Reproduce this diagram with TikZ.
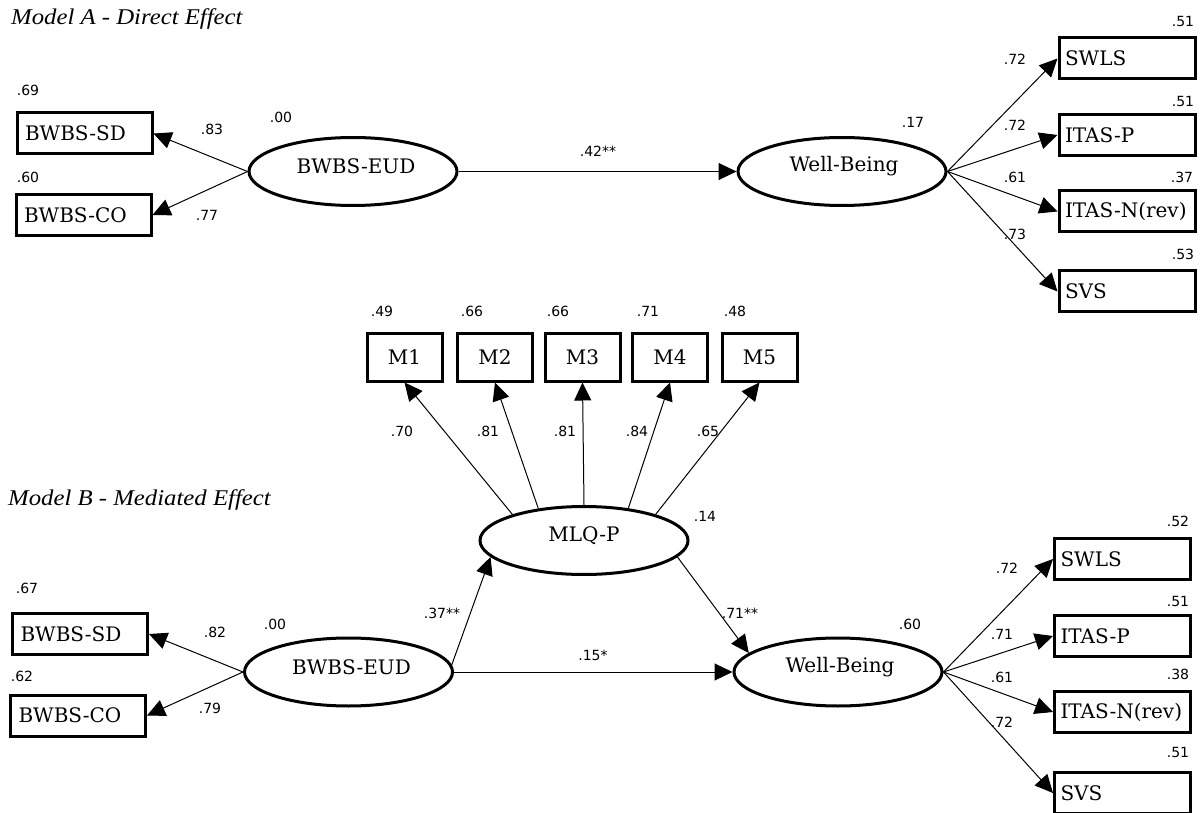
\documentclass[tikz,border=0pt]{standalone}
\usepackage{fontspec}
\setmainfont{DejaVu Serif}
\newfontfamily\numfont{DejaVu Sans}
\newfontfamily\titlefont[FakeStretch=1.1]{Liberation Serif}
\usetikzlibrary{shapes.geometric,arrows.meta}
\begin{document}
\begin{tikzpicture}[x=1pt,y=-1pt,
  obs/.style={draw, line width=3pt, rectangle, minimum height=41pt, inner ysep=0pt,
    font=\fontsize{20}{22}\selectfont},
  lbox/.style={obs, minimum width=135pt, text width=119pt, inner xsep=8pt, align=left},
  rbox/.style={obs, minimum width=136pt, text width=124pt, inner xsep=6pt, align=left},
  mbox/.style={obs, minimum width=75pt, minimum height=48pt, inner xsep=0pt},
  lat/.style={draw, ellipse, line width=3pt, minimum width=208pt, minimum height=68pt, inner sep=0pt},
  lattext/.style={font=\fontsize{20}{22}\selectfont, inner sep=0pt},
  num/.style={font=\numfont\fontsize{14}{16}\selectfont, inner sep=0pt},
  ttl/.style={font=\titlefont\itshape\fontsize{22.5}{24}\selectfont, inner sep=0pt, anchor=base west},
  conn/.style={line width=1pt, -{Triangle[length=18pt,width=17pt]}}
]
\useasboundingbox[fill=white] (0,0) rectangle (1203,813);

% ---------------- Model A ----------------
\node[ttl] (tA) at (11,25) {Model A - Direct Effect};
\node[lbox] (Asd) at (84.5,133.5) {BWBS-SD};
\node[lbox] (Aco) at (83.5,215) {BWBS-CO};
\node[lat] (Aeud) at (353,171.5) {};
\node[lattext] (AeudT) at ([xshift=3pt,yshift=5pt]Aeud.center) {BWBS-EUD};
\node[lat] (Awb) at (842,171.5) {};
\node[lattext] (AwbT) at ([xshift=2pt,yshift=5pt]Awb.center) {Well-Being};
\node[rbox] (As1) at (1127,58.5) {SWLS};
\node[rbox] (As2) at (1127,135) {ITAS-P};
\node[rbox] (As3) at (1127,211.5) {ITAS-N(rev)};
\node[rbox] (As4) at (1127,291.5) {SVS};

\draw[conn] (Aeud.west) -- (Asd.east);
\draw[conn] (Aeud.west) -- (Aco.east);
\draw[conn] (Aeud.east) -- (Awb.west);
\foreach \i in {1,...,4} { \draw[conn] (Awb.east) -- (As\i.west); }

\node[num] (nA1) at (28,90) {.69};
\node[num] (nA2) at (28,177) {.60};
\node[num] (nA3) at (212,129) {.83};
\node[num] (nA4) at (207,215) {.77};
\node[num] (nA5) at (281,117.5) {.00};
\node[num] (nA6) at (598,151) {.42**};
\node[num] (nA7) at (913,122) {.17};
\node[num] (nA8) at (1015,59) {.72};
\node[num] (nA9) at (1015,125) {.72};
\node[num] (nA10) at (1015,177) {.61};
\node[num] (nA11) at (1015,234) {.73};
\node[num] (nA12) at (1183,21) {.51};
\node[num] (nA13) at (1183,101) {.51};
\node[num] (nA14) at (1182,177) {.37};
\node[num] (nA15) at (1183,254) {.53};

% ---------------- Mediator ----------------
\node[mbox] (M1) at (404.5,357) {M1};
\node[mbox] (M2) at (495,357) {M2};
\node[mbox] (M3) at (582.5,357) {M3};
\node[mbox] (M4) at (670,357) {M4};
\node[mbox] (M5) at (759.5,357) {M5};
\node[lat] (mlq) at (584,540.5) {};
\node[lattext] (mlqT) at ([yshift=5pt]mlq.center) {MLQ-P};

\draw[conn] (mlq.160) -- (M1.south);
\draw[conn] (mlq.145) -- (M2.south);
\draw[conn] (mlq.90) -- (M3.south);
\draw[conn] (mlq.36) -- (M4.south);
\draw[conn] (mlq.20) -- (M5.south);

\node[num] (nM1) at (382,311) {.49};
\node[num] (nM2) at (472,311) {.66};
\node[num] (nM3) at (558,311) {.66};
\node[num] (nM4) at (648,311) {.71};
\node[num] (nM5) at (735,311) {.48};
\node[num] (nL1) at (402,431) {.70};
\node[num] (nL2) at (488,431) {.81};
\node[num] (nL3) at (565,431) {.81};
\node[num] (nL4) at (637,431) {.84};
\node[num] (nL5) at (708,431) {.65};
\node[num] (nM6) at (705,516) {.14};

% ---------------- Model B ----------------
\node[ttl] (tB) at (8,505) {Model B - Mediated Effect};
\node[lbox] (Bsd) at (80,634) {BWBS-SD};
\node[lbox] (Bco) at (78,715.5) {BWBS-CO};
\node[lat] (Beud) at (348.5,672) {};
\node[lattext] (BeudT) at ([xshift=3pt,yshift=5pt]Beud.center) {BWBS-EUD};
\node[lat] (Bwb) at (838,672) {};
\node[lattext] (BwbT) at ([xshift=2pt,yshift=5pt]Bwb.center) {Well-Being};
\node[rbox] (Bs1) at (1122.5,559) {SWLS};
\node[rbox] (Bs2) at (1122.5,636) {ITAS-P};
\node[rbox] (Bs3) at (1122.5,712) {ITAS-N(rev)};
\node[rbox] (Bs4) at (1122.5,793) {SVS};

\draw[conn] (Beud.west) -- (Bsd.east);
\draw[conn] (Beud.west) -- (Bco.east);
\draw[conn] (Beud.4) -- (mlq.190);
\draw[conn] (mlq.350) -- (Bwb.168);
\draw[conn] (Beud.east) -- (Bwb.west);
\foreach \i in {1,...,4} { \draw[conn] (Bwb.east) -- (Bs\i.west); }

\node[num] (nB1) at (27,588) {.67};
\node[num] (nB2) at (22,676) {.62};
\node[num] (nB3) at (215,632) {.82};
\node[num] (nB4) at (210,708) {.79};
\node[num] (nB5) at (275,624) {.00};
\node[num] (nB6) at (442,613) {.37**};
\node[num] (nB7) at (593,655) {.15*};
\node[num] (nB8) at (740,613) {.71**};
\node[num] (nB9) at (910,624) {.60};
\node[num] (nB10) at (1007,568) {.72};
\node[num] (nB11) at (1002,634) {.71};
\node[num] (nB12) at (1002,677) {.61};
\node[num] (nB13) at (1002,722) {.72};
\node[num] (nB14) at (1178,521) {.52};
\node[num] (nB15) at (1178,601) {.51};
\node[num] (nB16) at (1178,674) {.38};
\node[num] (nB17) at (1178,752) {.51};
\end{tikzpicture}
\end{document}
